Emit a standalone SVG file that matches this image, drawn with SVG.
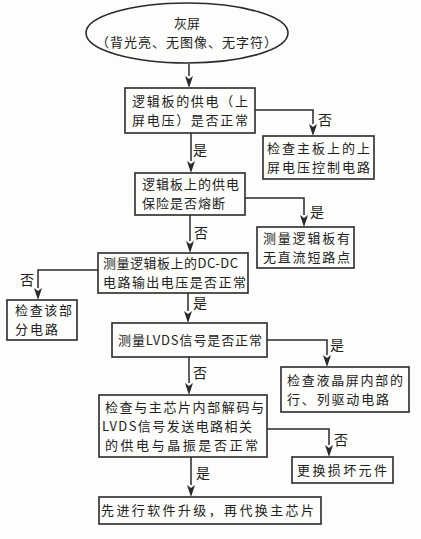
<svg xmlns="http://www.w3.org/2000/svg" width="421" height="539" viewBox="0 0 421 539">
<style>
.bg{fill:#fdfdfb}
.box{fill:#fdfdfb;stroke:#2a2a2a;stroke-width:1.6}
.t{font-family:"Noto Sans CJK SC","Noto Sans",sans-serif;font-size:13px;fill:#222}
.lb{font-family:"Noto Sans CJK SC","Noto Sans",sans-serif;font-size:14px;fill:#222}
.c{fill:none;stroke:#2a2a2a;stroke-width:1.5}
.ah{fill:#2a2a2a}
</style>
<rect class="bg" x="0" y="0" width="421" height="539"/>
<g id="connectors">
<path class="c" d="M189,64 L189,76"/><path class="ah" d="M185,76 L189,88 L193,76 L189,79 Z"/>
<path class="c" d="M255,110 H313 V124"/><path class="ah" d="M309,124 L313,136 L317,124 L313,127 Z"/>
<path class="c" d="M191,133 V161"/><path class="ah" d="M187,161 L191,173 L195,161 L191,164 Z"/>
<path class="c" d="M245,198 H304 V215"/><path class="ah" d="M300,215 L304,227 L308,215 L304,218 Z"/>
<path class="c" d="M190,215 V241"/><path class="ah" d="M186,241 L190,253 L194,241 L190,244 Z"/>
<path class="c" d="M98,270 H38 V288"/><path class="ah" d="M34,288 L38,300 L42,288 L38,291 Z"/>
<path class="c" d="M188,293 V311"/><path class="ah" d="M184,311 L188,323 L192,311 L188,314 Z"/>
<path class="c" d="M267,340 H327 V355"/><path class="ah" d="M323,355 L327,367 L331,355 L327,358 Z"/>
<path class="c" d="M189,357 V383"/><path class="ah" d="M185,383 L189,395 L193,383 L189,386 Z"/>
<path class="c" d="M267,429 H329 V445"/><path class="ah" d="M325,445 L329,457 L333,445 L329,448 Z"/>
<path class="c" d="M191,457 V485"/><path class="ah" d="M187,485 L191,497 L195,485 L191,488 Z"/>
<text class="lb" x="318" y="125">否</text>
<text class="lb" x="193" y="155">是</text>
<text class="lb" x="310" y="217">是</text>
<text class="lb" x="194" y="238">否</text>
<text class="lb" x="20" y="285">否</text>
<text class="lb" x="193" y="308">是</text>
<text class="lb" x="330" y="350">是</text>
<text class="lb" x="193" y="378">否</text>
<text class="lb" x="334" y="445">否</text>
<text class="lb" x="196" y="478">是</text>
</g>
<g id="n0">
<ellipse class="box" cx="187" cy="33" rx="101" ry="30"/>
<text class="t" x="187" y="28" text-anchor="middle" font-size="14">灰屏</text>
<text class="t" x="96" y="47" textLength="181" lengthAdjust="spacing">（背光亮、无图像、无字符）</text>
</g>
<g id="n1">
<rect class="box" x="125" y="88" width="130" height="45"/>
<text class="t" x="132" y="105.5" textLength="116" lengthAdjust="spacing">逻辑板的供电（上</text>
<text class="t" x="132" y="124.5" textLength="116" lengthAdjust="spacing">屏电压）是否正常</text>
</g>
<g id="n2">
<rect class="box" x="263" y="136" width="111" height="43"/>
<text class="t" x="267" y="152.5" textLength="103" lengthAdjust="spacing">检查主板上的上</text>
<text class="t" x="267" y="171.5" textLength="103" lengthAdjust="spacing">屏电压控制电路</text>
</g>
<g id="n3">
<rect class="box" x="135" y="173" width="110" height="42"/>
<text class="t" x="142" y="189" textLength="97" lengthAdjust="spacing">逻辑板上的供电</text>
<text class="t" x="142" y="208" textLength="83" lengthAdjust="spacing">保险是否熔断</text>
</g>
<g id="n4">
<rect class="box" x="257" y="227" width="97" height="41"/>
<text class="t" x="263" y="242.5" textLength="87" lengthAdjust="spacing">测量逻辑板有</text>
<text class="t" x="263" y="261.5" textLength="87" lengthAdjust="spacing">无直流短路点</text>
</g>
<g id="n5">
<rect class="box" x="98" y="253" width="150" height="40"/>
<text class="t" x="103" y="268" textLength="135" lengthAdjust="spacing">测量逻辑板上的DC-DC</text>
<text class="t" x="103" y="287" textLength="143" lengthAdjust="spacing">电路输出电压是否正常</text>
</g>
<g id="n6">
<rect class="box" x="7" y="300" width="70" height="40"/>
<text class="t" x="15" y="315" textLength="57" lengthAdjust="spacing">检查该部</text>
<text class="t" x="15" y="334" textLength="43" lengthAdjust="spacing">分电路</text>
</g>
<g id="n7">
<rect class="box" x="112" y="323" width="155" height="34"/>
<text class="t" x="118" y="345" textLength="144" lengthAdjust="spacing">测量LVDS信号是否正常</text>
</g>
<g id="n8">
<rect class="box" x="281" y="367" width="128" height="45"/>
<text class="t" x="287" y="384.5" textLength="116" lengthAdjust="spacing">检查液晶屏内部的</text>
<text class="t" x="287" y="403.5" textLength="102" lengthAdjust="spacing">行、列驱动电路</text>
</g>
<g id="n9">
<rect class="box" x="99" y="395" width="168" height="62"/>
<text class="t" x="105" y="411.5" textLength="159" lengthAdjust="spacing">检查与主芯片内部解码与</text>
<text class="t" x="102" y="430.5" textLength="150" lengthAdjust="spacing">LVDS信号发送电路相关</text>
<text class="t" x="105" y="449.5" textLength="153" lengthAdjust="spacing">的供电与晶振是否正常</text>
</g>
<g id="n10">
<rect class="box" x="292" y="457" width="101" height="26"/>
<text class="t" x="297" y="474.5" textLength="90" lengthAdjust="spacing">更换损坏元件</text>
</g>
<g id="n11">
<rect class="box" x="99" y="497" width="222" height="27"/>
<text class="t" x="101" y="515" textLength="213" lengthAdjust="spacing">先进行软件升级，再代换主芯片</text>
</g>
</svg>
